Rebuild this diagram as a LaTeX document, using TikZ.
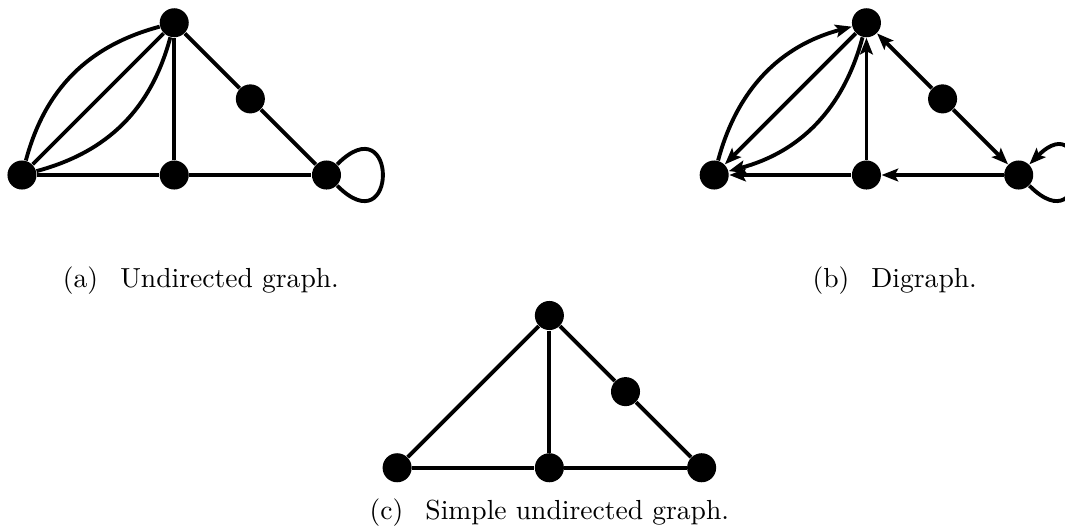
\documentclass[tikz,border=0pt]{standalone}
\usetikzlibrary{arrows.meta}
\begin{document}
\begin{tikzpicture}[x=1cm,y=1cm,
  vtx/.style={circle, fill=black, inner sep=0pt, minimum size=0.37cm},
  edg/.style={line width=1.4pt},
  arc/.style={line width=1.4pt, -{Stealth[length=6pt,width=4.6pt,inset=1.2pt]}}]
\useasboundingbox (0,0) rectangle (13.57,6.75);
% (a) undirected graph
\node[vtx] (aL) at (0.28,4.52) {};
\node[vtx] (aM) at (2.22,4.52) {};
\node[vtx] (aR) at (4.16,4.52) {};
\node[vtx] (aT) at (2.22,6.46) {};
\node[vtx] (aD) at (3.19,5.49) {};
\draw[edg] (aL) -- (aT);
\draw[edg] (aL) to[bend left=30] (aT);
\draw[edg] (aL) to[bend right=30] (aT);
\draw[edg] (aT) -- (aM);
\draw[edg] (aL) -- (aM);
\draw[edg] (aM) -- (aR);
\draw[edg] (aT) -- (aD);
\draw[edg] (aD) -- (aR);
\draw[edg] (aR) to[out=45,in=-45,min distance=11mm] (aR);
\node (capa) at (2.56,3.17) {(a)\hspace{8pt}Undirected graph.};
% (b) digraph
\node[vtx] (bL) at (9.10,4.52) {};
\node[vtx] (bM) at (11.04,4.52) {};
\node[vtx] (bR) at (12.98,4.52) {};
\node[vtx] (bT) at (11.04,6.46) {};
\node[vtx] (bD) at (12.01,5.49) {};
\draw[arc] (bL) to[bend left=30] (bT);
\draw[arc] (bT) -- (bL);
\draw[arc] (bT) to[bend left=30] (bL);
\draw[arc] (bM) -- (bT);
\draw[arc] (bM) -- (bL);
\draw[arc] (bR) -- (bM);
\draw[arc] (bD) -- (bT);
\draw[arc] (bD) -- (bR);
\draw[arc] (bR) to[out=-45,in=45,min distance=11mm] (bR);
\node (capb) at (11.40,3.17) {(b)\hspace{8pt}Digraph.};
% (c) simple undirected graph
\node[vtx] (cL) at (5.06,0.79) {};
\node[vtx] (cM) at (7.00,0.79) {};
\node[vtx] (cR) at (8.94,0.79) {};
\node[vtx] (cT) at (7.00,2.73) {};
\node[vtx] (cD) at (7.97,1.76) {};
\draw[edg] (cL) -- (cT);
\draw[edg] (cT) -- (cM);
\draw[edg] (cL) -- (cM);
\draw[edg] (cM) -- (cR);
\draw[edg] (cT) -- (cD);
\draw[edg] (cD) -- (cR);
\node (capc) at (7.00,0.22) {(c)\hspace{8pt}Simple undirected graph.};
\end{tikzpicture}
\end{document}
